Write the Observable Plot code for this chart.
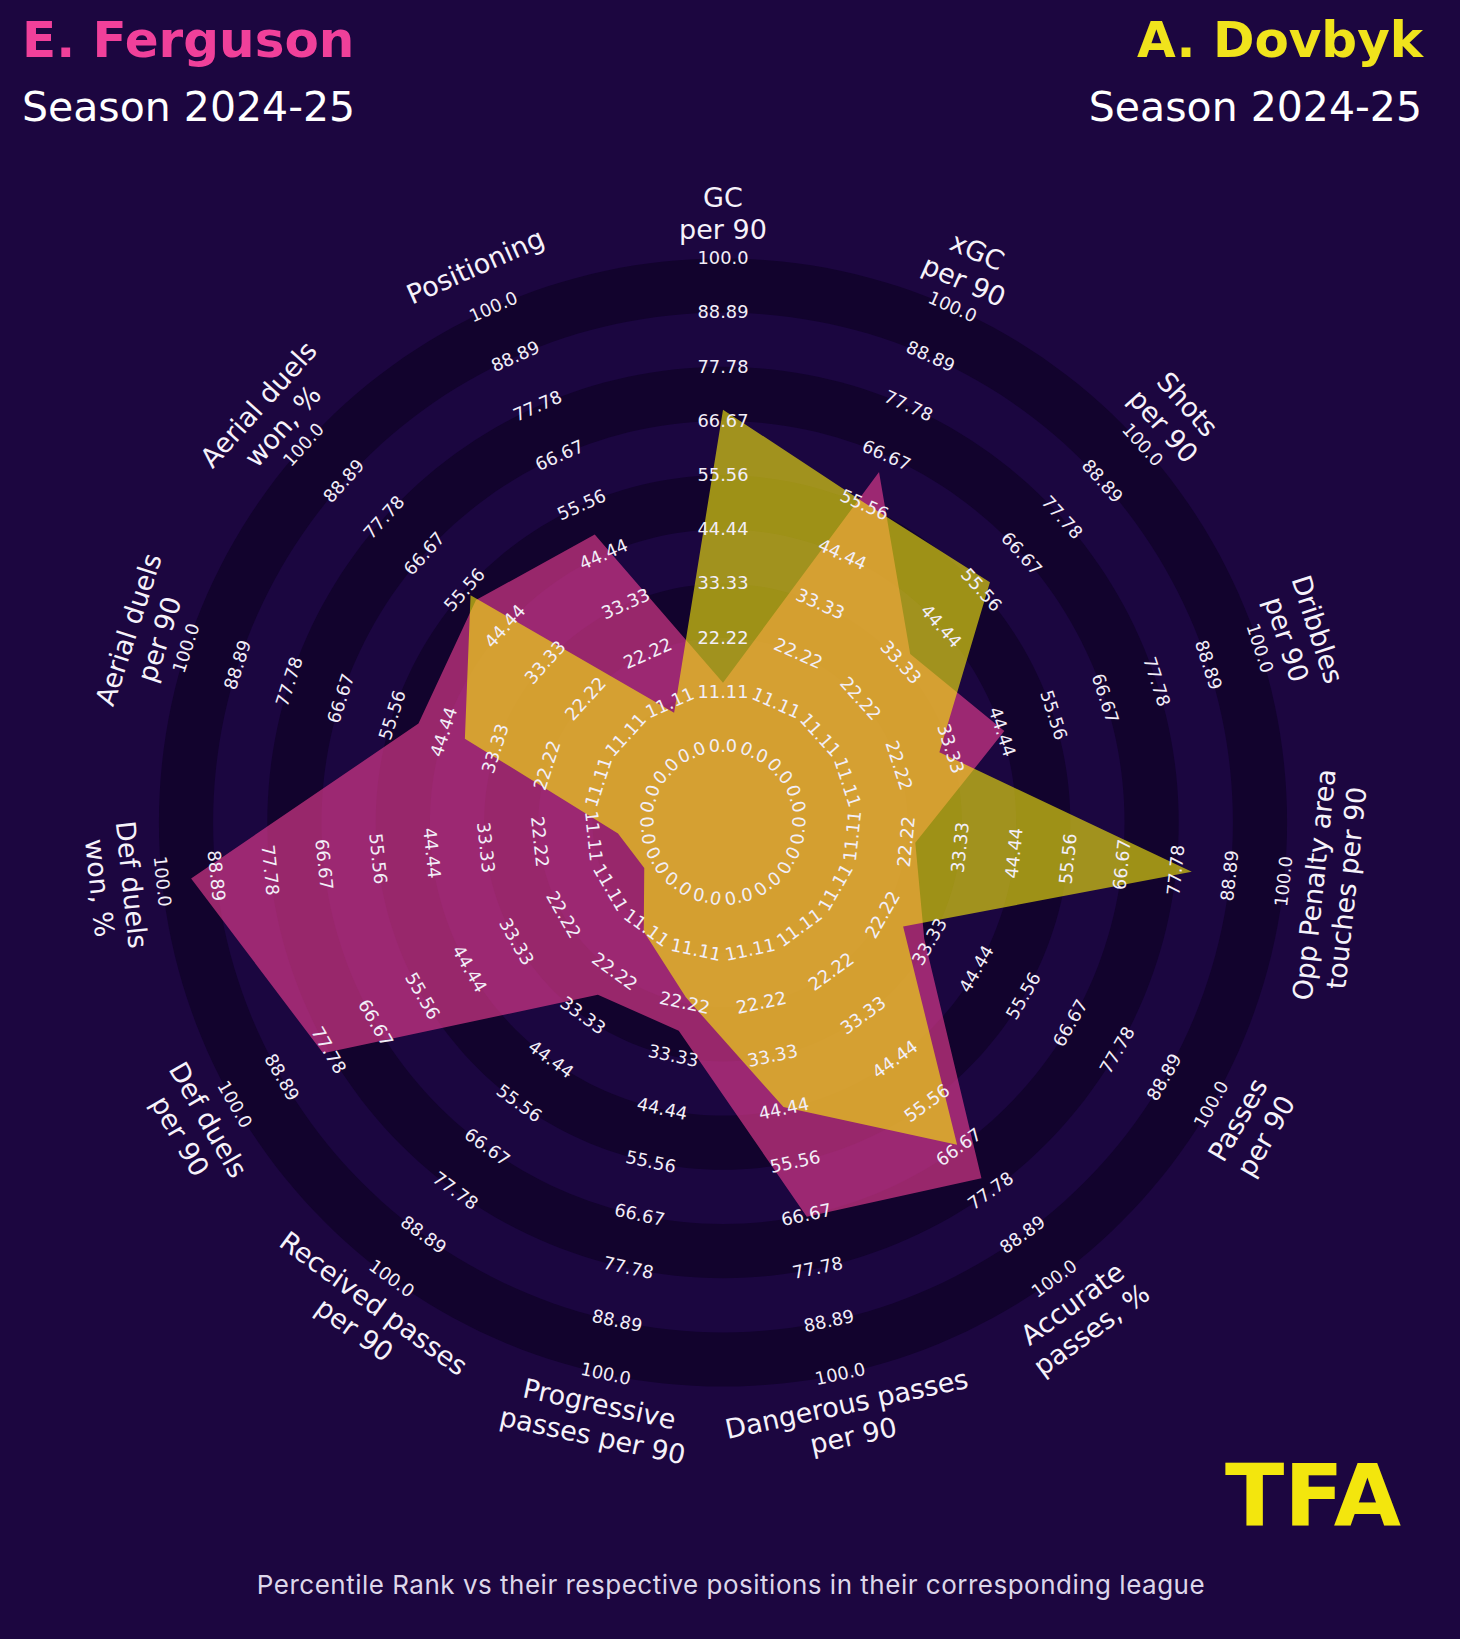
<!DOCTYPE html>
<html>
<head>
<meta charset="utf-8">
<script src="https://cdn.jsdelivr.net/npm/d3@7"></script>
<script src="https://cdn.jsdelivr.net/npm/@observablehq/plot@0.6"></script>
<style>
  html, body { margin: 0; padding: 0; background: #1c0640; }
  #wrap { position: relative; width: 1460px; height: 1639px; overflow: hidden; background: #1c0640; }
  #chart { position: absolute; left: 0; top: 0; }
  #overlay { position: absolute; left: 0; top: 0; pointer-events: none; }
</style>
</head>
<body>
<div id="wrap">
  <div id="chart"></div>
  <svg id="overlay" width="1460" height="1639" xmlns="http://www.w3.org/2000/svg">
    <text x="22" y="57" font-family="DejaVu Sans" font-weight="bold" font-size="50" fill="#f0409a">E. Ferguson</text>
    <text x="22" y="121" font-family="DejaVu Sans" font-size="41" fill="#ffffff">Season 2024-25</text>
    <text x="1423" y="57" text-anchor="end" font-family="DejaVu Sans" font-weight="bold" font-size="50" fill="#f0e31c">A. Dovbyk</text>
    <text x="1422" y="121" text-anchor="end" font-family="DejaVu Sans" font-size="41" fill="#ffffff">Season 2024-25</text>
    <text x="1225" y="1525" font-family="DejaVu Sans" font-weight="bold" font-size="86" fill="#f3e60d" textLength="176" lengthAdjust="spacingAndGlyphs">TFA</text>
    <text x="731" y="1594" text-anchor="middle" font-family="Inter" font-size="26" letter-spacing="0.5" fill="#ddd6ea">Percentile Rank vs their respective positions in their corresponding league</text>
  </svg>
</div>
<script>
// ---------------- data ----------------
const params = [
  "GC\nper 90",
  "xGC\nper 90",
  "Shots\nper 90",
  "Dribbles\nper 90",
  "Opp Penalty area\ntouches per 90",
  "Passes\nper 90",
  "Accurate\npasses, %",
  "Dangerous passes\nper 90",
  "Progressive\npasses per 90",
  "Received passes\nper 90",
  "Def duels\nper 90",
  "Def duels\nwon, %",
  "Aerial duels\nper 90",
  "Aerial duels\nwon, %",
  "Positioning"
];
const ferguson = [13, 63, 36, 45, 24, 32, 74.5, 67, 28, 28, 79, 94, 50, 52.5, 49];
const dovbyk   = [69, 56, 58, 31, 81, 27, 66, 44, 21, 12, 3, 6, 40, 54, 9];
const tickLabels = ["0.0", "11.11", "22.22", "33.33", "44.44", "55.56", "66.67", "77.78", "88.89", "100.0"];

// ---------------- geometry helpers (polar -> scale units) ----------------
const inner = 15.64;            // centre-circle radius, in percentile units
const labelR = 125;             // radius of the parameter labels
const n = params.length;
const angleOf = i => i * 360 / n;   // clockwise from top, degrees
const polar = (r, deg) => {
  const a = deg * Math.PI / 180;
  return {x: r * Math.sin(a), y: r * Math.cos(a)};
};
const readable = deg => {
  let r = ((deg + 180) % 360 + 360) % 360 - 180;
  if (r > 90) r -= 180;
  if (r < -90) r += 180;
  return r;
};

// rings: filled disks, outermost first, alternating tones
const ringVals = tickLabels.map(Number);
const ringColors = ["#12032d", "#1b0640"];
const disks = [];
for (let k = ringVals.length - 1; k >= 0; k--) {
  const R = ringVals[k] + inner;
  const col = k === 0 ? "#1b0640" : ringColors[(k - 1) % 2];
  for (let j = 0; j < 240; j++) {
    const p = polar(R, j * 360 / 240);
    disks.push({k, x: p.x, y: p.y, col});
  }
}

const poly = (vals, who) => vals.map((v, i) => ({who, ...polar(v + inner, angleOf(i))}));
const fergPoly = poly(ferguson, "Ferguson");
const dovPoly = poly(dovbyk, "Dovbyk");

const ticks = [];
params.forEach((p, i) => {
  tickLabels.forEach((t, k) => {
    const q = polar(ringVals[k] + inner, angleOf(i));
    ticks.push({text: t, x: q.x, y: q.y, rot: readable(angleOf(i))});
  });
});
const labels = params.map((p, i) => {
  const q = polar(labelR, angleOf(i));
  return {text: p, x: q.x, y: q.y, rot: readable(angleOf(i))};
});

const k = 4.878; // px per unit
const W = 1460, H = 1639, cx = 722.5, cy = 822;

const chart = Plot.plot({
  width: W,
  height: H,
  margin: 0,
  style: {background: "transparent", overflow: "visible"},
  x: {domain: [-cx / k, (W - cx) / k], axis: null},
  y: {domain: [(cy - H) / k, cy / k], axis: null},
  marks: [
    ...d3.groups(disks, d => d.k).map(([kk, pts]) =>
      Plot.line(pts, {x: "x", y: "y", fill: pts[0].col, stroke: "none", curve: "linear-closed"})
    ),
    Plot.line(fergPoly, {x: "x", y: "y", fill: "#ec3d92", fillOpacity: 0.62, stroke: "none", curve: "linear-closed"}),
    Plot.line(dovPoly, {x: "x", y: "y", fill: "#fcf009", fillOpacity: 0.6, stroke: "none", curve: "linear-closed"}),
    Plot.text(ticks, {x: "x", y: "y", text: "text", rotate: "rot", fontSize: 17.8, fill: "#f2eef8", fontFamily: "DejaVu Sans"}),
    Plot.text(labels, {x: "x", y: "y", text: "text", rotate: "rot", fontSize: 27, lineHeight: 1.2, fill: "#f6f2fa", fontFamily: "DejaVu Sans"})
  ]
});
document.getElementById("chart").appendChild(chart);
</script>
</body>
</html>
